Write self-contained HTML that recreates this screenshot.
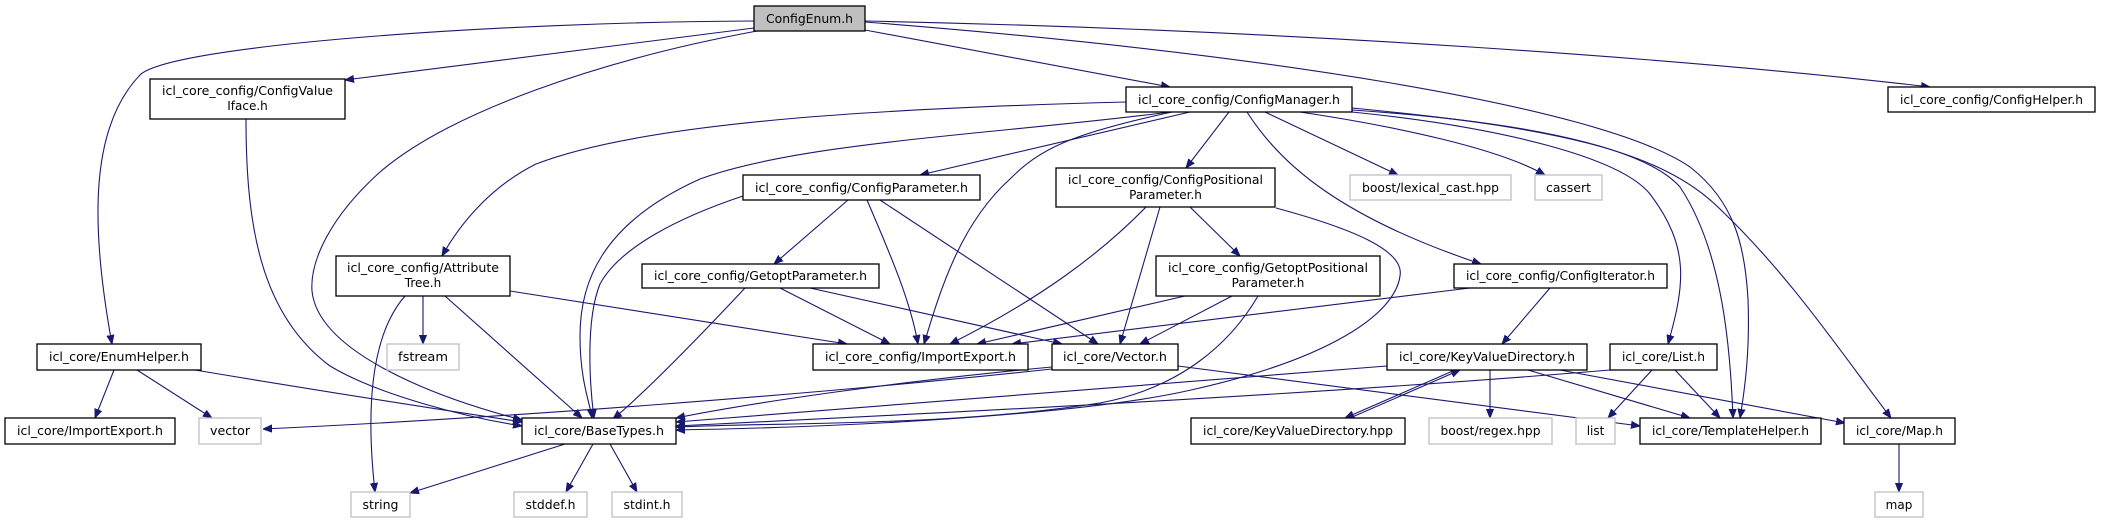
<!DOCTYPE html>
<html><head><meta charset="utf-8"><style>
html,body{margin:0;padding:0;background:#fff;overflow:hidden;}
svg{display:block;}
text{font-family:"DejaVu Sans","Liberation Sans",sans-serif;font-size:12px;fill:#000;}
.n{fill:#fff;stroke:#000;stroke-width:1.3;}
.g{fill:#fff;stroke:#bfbfbf;stroke-width:1.3;}
.e path{fill:none;stroke:#191970;stroke-width:1.1;marker-end:url(#a);}
</style></head><body>
<svg width="2117" height="529" viewBox="0 0 2117 529" xmlns="http://www.w3.org/2000/svg">
<defs><marker id="a" viewBox="0 0 10 10" refX="10" refY="5" markerWidth="9" markerHeight="9" markerUnits="userSpaceOnUse" orient="auto"><path d="M0,1 L10,5 L0,9 z" fill="#191970" stroke="#191970"/></marker></defs>
<g class="e">
<path d="M754,21 C500,22 170,45 140,75 C90,127 90,224 112,344"/>
<path d="M754,28 L345,80"/>
<path d="M757,31 C600,60 450,112 380,172 C330,217 310,261 312,291 C318,351 430,396 522,420"/>
<path d="M865,30 L1170,87"/>
<path d="M865,21 C1300,30 1700,60 1930,87"/>
<path d="M865,22 C1250,52 1600,105 1690,167 C1735,202 1745,247 1748,299 C1750,351 1745,388 1740,418"/>
<path d="M1126,102 C900,108 650,120 536,164 C490,187 460,224 442,256"/>
<path d="M1170,112 C1000,134 800,142 700,179 C600,224 580,284 580,336 C580,381 590,403 592,418"/>
<path d="M1190,112 L920,175"/>
<path d="M1229,112 L1186,168"/>
<path d="M1172,112 C1070,134 1040,149 1010,179 C960,224 940,291 924,344"/>
<path d="M1265,112 L1398,175"/>
<path d="M1300,112 C1400,127 1500,149 1545,175"/>
<path d="M1247,112 C1280,164 1340,217 1481,264"/>
<path d="M1352,112 C1500,127 1620,157 1650,194 C1690,247 1685,284 1668,344"/>
<path d="M1352,110 C1500,120 1640,142 1680,187 C1720,247 1730,336 1733,418"/>
<path d="M1352,108 C1550,127 1660,149 1720,209 C1790,276 1840,351 1891,418"/>
<path d="M246,119 C246,224 260,314 330,366 C380,396 470,418 522,426"/>
<path d="M405,296 C370,336 366,411 375,492"/>
<path d="M423,296 L423,344"/>
<path d="M445,296 L582,418"/>
<path d="M510,291 L847,344"/>
<path d="M114,370 L95,418"/>
<path d="M137,370 L212,418"/>
<path d="M195,370 C350,396 450,411 522,422"/>
<path d="M848,200 L774,264"/>
<path d="M867,200 C890,254 910,299 918,344"/>
<path d="M880,200 L1098,344"/>
<path d="M743,196 C680,217 620,247 600,284 C585,321 590,388 594,418"/>
<path d="M745,288 C700,336 650,388 613,419"/>
<path d="M780,288 L890,344"/>
<path d="M810,288 L1062,344"/>
<path d="M1146,207 C1100,254 1040,299 950,344"/>
<path d="M1160,207 L1120,344"/>
<path d="M1190,207 L1240,256"/>
<path d="M1276,208 C1350,228 1405,250 1400,276 C1395,314 1330,359 1191,390 C1100,411 900,426 676,430"/>
<path d="M1185,296 L977,344"/>
<path d="M1232,296 L1140,344"/>
<path d="M1258,296 C1230,344 1180,388 1100,403 C950,426 800,422 676,427"/>
<path d="M1470,288 L1012,344"/>
<path d="M1550,288 L1502,344"/>
<path d="M1052,367 C900,381 750,403 676,418"/>
<path d="M1052,369 C800,396 500,418 263,429"/>
<path d="M1178,366 L1640,426"/>
<path d="M1387,366 C1100,390 850,410 676,422"/>
<path d="M1455,370 L1345,418"/>
<path d="M1350,418 L1460,370"/>
<path d="M1490,370 L1490,418"/>
<path d="M1528,370 L1690,418"/>
<path d="M1560,370 L1845,423"/>
<path d="M1610,370 C1300,396 900,415 676,426"/>
<path d="M1652,370 L1608,418"/>
<path d="M1675,370 L1720,418"/>
<path d="M565,444 L410,493"/>
<path d="M593,444 L566,492"/>
<path d="M610,444 L637,492"/>
<path d="M1899,444 L1899,492"/>
</g>
<g>
<rect x="754" y="6" width="111" height="25" fill="#bfbfbf" stroke="#000" stroke-width="1.3"/>
<text x="809.5" y="23" text-anchor="middle" textLength="87" lengthAdjust="spacingAndGlyphs">ConfigEnum.h</text>
<rect class="n" x="150" y="79" width="195" height="40"/>
<text x="247.5" y="95" text-anchor="middle" textLength="171" lengthAdjust="spacingAndGlyphs">icl_core_config/ConfigValue</text>
<text x="247.5" y="110" text-anchor="middle">Iface.h</text>
<rect class="n" x="1126" y="87" width="226" height="25"/>
<text x="1239" y="104" text-anchor="middle" textLength="202" lengthAdjust="spacingAndGlyphs">icl_core_config/ConfigManager.h</text>
<rect class="n" x="1888" y="87" width="207" height="25"/>
<text x="1991.5" y="104" text-anchor="middle" textLength="183" lengthAdjust="spacingAndGlyphs">icl_core_config/ConfigHelper.h</text>
<rect class="n" x="743" y="175" width="237" height="25"/>
<text x="861.5" y="192" text-anchor="middle" textLength="213" lengthAdjust="spacingAndGlyphs">icl_core_config/ConfigParameter.h</text>
<rect class="n" x="1056" y="168" width="219" height="39"/>
<text x="1165.5" y="184" text-anchor="middle" textLength="195" lengthAdjust="spacingAndGlyphs">icl_core_config/ConfigPositional</text>
<text x="1165.5" y="199" text-anchor="middle">Parameter.h</text>
<rect class="g" x="1350" y="175" width="161" height="25"/>
<text x="1430.5" y="192" text-anchor="middle" textLength="137" lengthAdjust="spacingAndGlyphs">boost/lexical_cast.hpp</text>
<rect class="g" x="1535" y="175" width="67" height="25"/>
<text x="1568.5" y="192" text-anchor="middle" textLength="45" lengthAdjust="spacingAndGlyphs">cassert</text>
<rect class="n" x="336" y="256" width="174" height="40"/>
<text x="423" y="272" text-anchor="middle" textLength="152" lengthAdjust="spacingAndGlyphs">icl_core_config/Attribute</text>
<text x="423" y="287" text-anchor="middle">Tree.h</text>
<rect class="n" x="642" y="264" width="237" height="24"/>
<text x="760.5" y="280" text-anchor="middle" textLength="213" lengthAdjust="spacingAndGlyphs">icl_core_config/GetoptParameter.h</text>
<rect class="n" x="1156" y="256" width="224" height="40"/>
<text x="1268" y="272" text-anchor="middle" textLength="200" lengthAdjust="spacingAndGlyphs">icl_core_config/GetoptPositional</text>
<text x="1268" y="287" text-anchor="middle">Parameter.h</text>
<rect class="n" x="1454" y="264" width="213" height="24"/>
<text x="1560.5" y="280" text-anchor="middle" textLength="189" lengthAdjust="spacingAndGlyphs">icl_core_config/ConfigIterator.h</text>
<rect class="n" x="37" y="344" width="164" height="26"/>
<text x="119" y="361" text-anchor="middle" textLength="140" lengthAdjust="spacingAndGlyphs">icl_core/EnumHelper.h</text>
<rect class="g" x="387" y="344" width="72" height="26"/>
<text x="423" y="361" text-anchor="middle" textLength="50" lengthAdjust="spacingAndGlyphs">fstream</text>
<rect class="n" x="813" y="344" width="215" height="26"/>
<text x="920.5" y="361" text-anchor="middle" textLength="191" lengthAdjust="spacingAndGlyphs">icl_core_config/ImportExport.h</text>
<rect class="n" x="1052" y="344" width="126" height="26"/>
<text x="1115" y="361" text-anchor="middle" textLength="104" lengthAdjust="spacingAndGlyphs">icl_core/Vector.h</text>
<rect class="n" x="1387" y="344" width="200" height="26"/>
<text x="1487" y="361" text-anchor="middle" textLength="176" lengthAdjust="spacingAndGlyphs">icl_core/KeyValueDirectory.h</text>
<rect class="n" x="1610" y="344" width="107" height="26"/>
<text x="1663.5" y="361" text-anchor="middle" textLength="83" lengthAdjust="spacingAndGlyphs">icl_core/List.h</text>
<rect class="n" x="5" y="418" width="170" height="26"/>
<text x="90" y="435" text-anchor="middle" textLength="146" lengthAdjust="spacingAndGlyphs">icl_core/ImportExport.h</text>
<rect class="g" x="199" y="418" width="62" height="26"/>
<text x="230" y="435" text-anchor="middle" textLength="40" lengthAdjust="spacingAndGlyphs">vector</text>
<rect class="n" x="522" y="418" width="154" height="26"/>
<text x="599" y="435" text-anchor="middle" textLength="130" lengthAdjust="spacingAndGlyphs">icl_core/BaseTypes.h</text>
<rect class="n" x="1191" y="418" width="214" height="26"/>
<text x="1298" y="435" text-anchor="middle" textLength="190" lengthAdjust="spacingAndGlyphs">icl_core/KeyValueDirectory.hpp</text>
<rect class="g" x="1429" y="418" width="123" height="26"/>
<text x="1490.5" y="435" text-anchor="middle" textLength="100" lengthAdjust="spacingAndGlyphs">boost/regex.hpp</text>
<rect class="g" x="1576" y="418" width="39" height="26"/>
<text x="1595.5" y="435" text-anchor="middle">list</text>
<rect class="n" x="1640" y="418" width="181" height="26"/>
<text x="1730.5" y="435" text-anchor="middle" textLength="157" lengthAdjust="spacingAndGlyphs">icl_core/TemplateHelper.h</text>
<rect class="n" x="1844" y="418" width="111" height="26"/>
<text x="1899.5" y="435" text-anchor="middle" textLength="87" lengthAdjust="spacingAndGlyphs">icl_core/Map.h</text>
<rect class="g" x="351" y="492" width="59" height="25"/>
<text x="380.5" y="509" text-anchor="middle" textLength="36" lengthAdjust="spacingAndGlyphs">string</text>
<rect class="g" x="514" y="492" width="73" height="25"/>
<text x="550.5" y="509" text-anchor="middle" textLength="50" lengthAdjust="spacingAndGlyphs">stddef.h</text>
<rect class="g" x="612" y="492" width="70" height="25"/>
<text x="647" y="509" text-anchor="middle" textLength="47" lengthAdjust="spacingAndGlyphs">stdint.h</text>
<rect class="g" x="1875" y="492" width="48" height="25"/>
<text x="1899" y="509" text-anchor="middle">map</text>
</g>
</svg>
</body></html>
